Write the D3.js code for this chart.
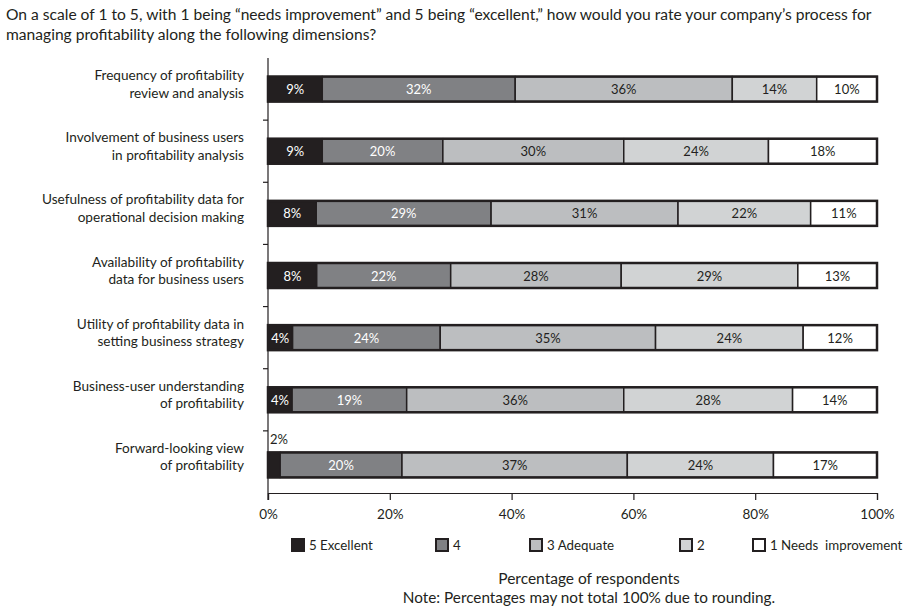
<!DOCTYPE html>
<html lang="en">
  <head>
    <meta charset="UTF-8" />
    <title>Profitability process ratings</title>
    <script src="https://d3js.org/d3.v7.min.js"></script>
    <style>
      body { margin: 0; background: #fff; }
      text { font-family: "Lato", sans-serif; fill: #231f20; }
    </style>
  </head>
  <body>
    <svg width="907" height="608"></svg>

    <script>
      // data
      const categories = [
        ["Frequency of profitability", "review and analysis"],
        ["Involvement of business users", "in profitability analysis"],
        ["Usefulness of profitability data for", "operational decision making"],
        ["Availability of profitability", "data for business users"],
        ["Utility of profitability data in", "setting business strategy"],
        ["Business-user understanding", "of profitability"],
        ["Forward-looking view", "of profitability"]
      ];
      const ratings = ["5 Excellent", "4", "3 Adequate", "2", "1 Needs  improvement"];
      const excellent = [9, 9, 8, 8, 4, 4, 2];
      const four = [32, 20, 29, 22, 24, 19, 20];
      const adequate = [36, 30, 31, 28, 35, 36, 37];
      const two = [14, 24, 22, 29, 24, 28, 24];
      const needsImprovement = [10, 18, 11, 13, 12, 14, 17];
      const xTicks = [0, 20, 40, 60, 80, 100];
      const colors = ["#231f20", "#808184", "#bcbec0", "#d1d3d4", "#ffffff"];

      const series = [excellent, four, adequate, two, needsImprovement];

      const svg = d3.select("svg");
      const plotLeft = 268, plotRight = 877, plotTop = 58, plotBottom = 493;

      const x = d3.scaleLinear().domain([0, 100]).range([plotLeft, plotRight]);
      const y = d3.scaleBand().domain(d3.range(categories.length)).range([plotTop, plotBottom]);

      // title
      const title = svg.append("text").attr("x", 6).attr("y", 20).style("font-size", "15.6px");
      title.append("tspan").attr("x", 6).attr("dy", 0)
        .text("On a scale of 1 to 5, with 1 being \u201cneeds improvement\u201d and 5 being \u201cexcellent,\u201d how would you rate your company\u2019s process for");
      title.append("tspan").attr("x", 6).attr("dy", 20)
        .text("managing profitability along the following dimensions?");

      // axes
      const xAxis = svg.append("g").attr("transform", `translate(0,${plotBottom})`)
        .call(d3.axisBottom(x).tickValues(xTicks).tickSize(7).tickFormat(d => d + "%"));
      xAxis.select(".domain").attr("stroke", "#231f20").attr("stroke-width", 1.2);
      xAxis.selectAll(".tick line").attr("stroke", "#231f20").attr("stroke-width", 1.2);
      xAxis.selectAll("text").attr("dy", "1.15em").style("font-size", "13.5px").attr("fill", "#231f20");

      svg.append("line").attr("x1", plotLeft).attr("x2", plotLeft).attr("y1", plotTop).attr("y2", plotBottom + 7)
        .attr("stroke", "#231f20").attr("stroke-width", 1.2);
      svg.selectAll(".ytick").data(d3.range(1, categories.length)).join("line")
        .attr("x1", plotLeft - 5).attr("x2", plotLeft)
        .attr("y1", d => y(d)).attr("y2", d => y(d))
        .attr("stroke", "#231f20").attr("stroke-width", 1.2);

      // category labels
      const labels = svg.selectAll(".cat").data(categories).join("text")
        .attr("text-anchor", "end").style("font-size", "13.6px");
      labels.each(function (d, i) {
        const t = d3.select(this);
        const cy = y(i) + y.bandwidth() / 2;
        d.forEach((line, j) => {
          t.append("tspan").attr("x", 244).attr("y", cy - 9 + j * 17.5).text(line);
        });
      });

      // bars
      const barH = 25;
      const rows = categories.map((c, i) => {
        const vals = series.map(s => s[i]);
        const total = d3.sum(vals);
        let acc = 0;
        return vals.map((v, k) => {
          const start = acc / total * 100;
          acc += v;
          return { row: i, k, v, x0: start, x1: acc / total * 100 };
        });
      });

      const rowG = svg.selectAll(".row").data(rows).join("g")
        .attr("transform", (d, i) => {
          const shift = i === categories.length - 1 ? 3 : 0;
          return `translate(0,${y(i) + y.bandwidth() / 2 - barH / 2 + shift})`;
        });

      rowG.selectAll("rect").data(d => d).join("rect")
        .attr("x", d => x(d.x0))
        .attr("width", d => x(d.x1) - x(d.x0))
        .attr("height", barH)
        .attr("fill", d => colors[d.k])
        .attr("stroke", "#231f20")
        .attr("stroke-width", 1.5);

      rowG.append("rect")
        .attr("x", plotLeft).attr("width", plotRight - plotLeft).attr("height", barH)
        .attr("fill", "none").attr("stroke", "#231f20").attr("stroke-width", 2.5);

      rowG.selectAll(".val").data(d => d).join("text")
        .attr("x", d => d.v < 3 ? x(d.x0) + 2 : (x(d.x0) + x(d.x1)) / 2)
        .attr("y", d => d.v < 3 ? -8 : barH / 2 + 5)
        .attr("text-anchor", d => d.v < 3 ? "start" : "middle")
        .style("font-size", "13px")
        .style("fill", d => d.v < 3 ? "#231f20" : d.k < 2 ? "#fff" : "#231f20")
        .text(d => d.v + "%");

      // legend
      const legendX = [292, 436, 530, 680, 753];
      const legend = svg.selectAll(".leg").data(ratings).join("g")
        .attr("transform", (d, i) => `translate(${legendX[i]},539)`);
      legend.append("rect")
        .attr("width", 12).attr("height", 12)
        .attr("fill", (d, i) => colors[i])
        .attr("stroke", "#231f20").attr("stroke-width", 2);
      legend.append("text")
        .attr("x", 17).attr("y", 11)
        .style("font-size", "13.3px")
        .style("white-space", "pre")
        .text(d => d);

      svg.append("text").attr("x", 589).attr("y", 584).attr("text-anchor", "middle")
        .style("font-size", "15.5px").text("Percentage of respondents");
      svg.append("text").attr("x", 589).attr("y", 603).attr("text-anchor", "middle")
        .style("font-size", "15.3px").text("Note: Percentages may not total 100% due to rounding.");
    </script>
  </body>
</html>
